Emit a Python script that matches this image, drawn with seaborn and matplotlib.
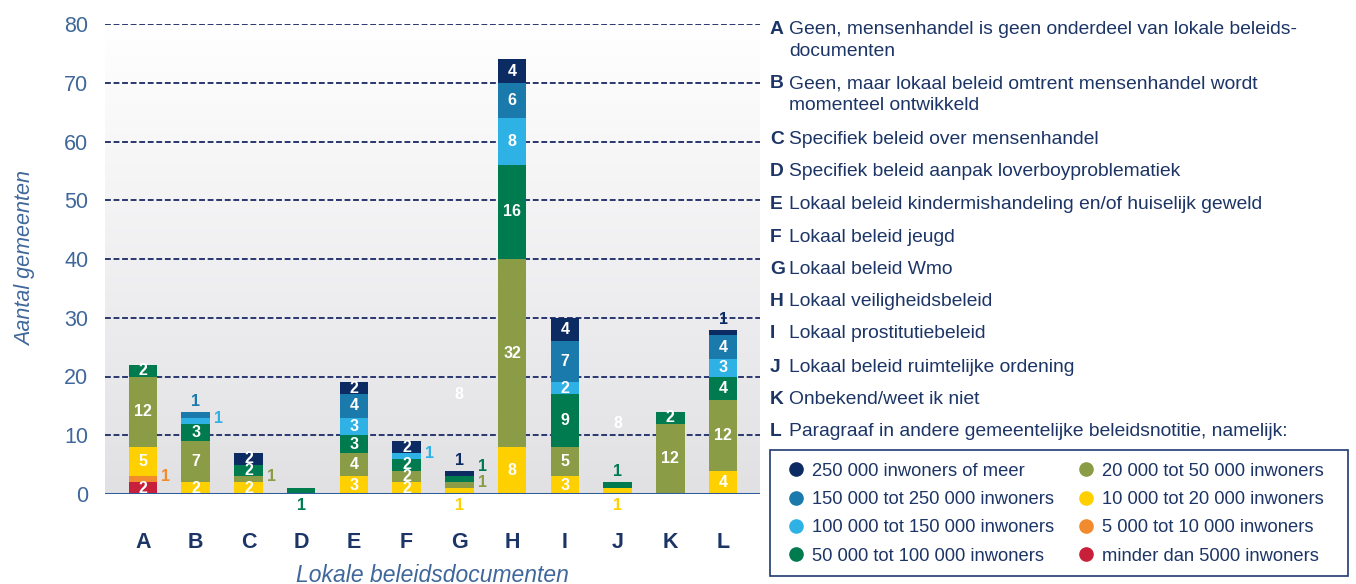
import numpy as np
import pandas as pd
import seaborn as sns
from matplotlib import pyplot as plt
from matplotlib.lines import Line2D
from matplotlib.patches import Rectangle

# --- data ---
categories = list("ABCDEFGHIJKL")
size_classes = [
    "250 000 inwoners of meer",
    "150 000 tot 250 000 inwoners",
    "100 000 tot 150 000 inwoners",
    "50 000 tot 100 000 inwoners",
    "20 000 tot 50 000 inwoners",
    "10 000 tot 20 000 inwoners",
    "5 000 tot 10 000 inwoners",
    "minder dan 5000 inwoners",
]
s250 = [0, 0, 2, 0, 2, 2, 1, 4, 4, 0, 0, 1]
s150 = [0, 1, 0, 0, 4, 0, 0, 6, 7, 0, 0, 4]
s100 = [0, 1, 0, 0, 3, 1, 0, 8, 2, 0, 0, 3]
s50 = [2, 3, 2, 1, 3, 2, 1, 16, 9, 1, 2, 4]
s20 = [12, 7, 1, 0, 4, 2, 1, 32, 5, 0, 12, 12]
s10 = [5, 2, 2, 0, 3, 2, 1, 8, 3, 1, 0, 4]
s5 = [1, 0, 0, 0, 0, 0, 0, 0, 0, 0, 0, 0]
s0 = [2, 0, 0, 0, 0, 0, 0, 0, 0, 0, 0, 0]
series = [s250, s150, s100, s50, s20, s10, s5, s0]

descriptions = [
    "Geen, mensenhandel is geen onderdeel van lokale beleids-\ndocumenten",
    "Geen, maar lokaal beleid omtrent mensenhandel wordt\nmomenteel ontwikkeld",
    "Specifiek beleid over mensenhandel",
    "Specifiek beleid aanpak loverboyproblematiek",
    "Lokaal beleid kindermishandeling en/of huiselijk geweld",
    "Lokaal beleid jeugd",
    "Lokaal beleid Wmo",
    "Lokaal veiligheidsbeleid",
    "Lokaal prostitutiebeleid",
    "Lokaal beleid ruimtelijke ordening",
    "Onbekend/weet ik niet",
    "Paragraaf in andere gemeentelijke beleidsnotitie, namelijk:",
]

colors = ["#0d2b63", "#1a7aab", "#2eb2e6", "#007a4f",
          "#8a9c46", "#ffd000", "#f28a2e", "#c81f3a"]
palette = dict(zip(size_classes, colors))
navy = "#1c3566"
steel = "#40679b"

rows = []
for cls, vals in zip(size_classes, series):
    for i, v in enumerate(vals):
        rows.append({"pos": i, "klasse": cls, "aantal": v})
df = pd.DataFrame(rows)

plt.rcParams["font.family"] = ["Liberation Sans", "DejaVu Sans"]
W, H = 1356, 584
fig = plt.figure(figsize=(W / 100, H / 100), dpi=100)
ax = fig.add_axes([105 / W, 1 - 494 / H, 655 / W, 470 / H])

# gradient background
grad = np.linspace(0, 1, 256).reshape(-1, 1)
ax.imshow(grad, extent=[0, 1, 0, 1], transform=ax.transAxes, aspect="auto",
          cmap=sns.blend_palette(["#e1e1e4", "#ffffff"], as_cmap=True),
          origin="lower", zorder=0)

sns.histplot(data=df, x="pos", weights="aantal", hue="klasse",
             hue_order=size_classes, palette=palette, multiple="stack",
             discrete=True, shrink=0.54, alpha=1, linewidth=0,
             legend=False, ax=ax, zorder=3)

ax.set_xlim(-0.72, 11.70)
ax.set_ylim(0, 80)
for s in ax.spines.values():
    s.set_visible(False)
for yv in range(10, 81, 10):
    ax.axhline(yv, color="#2a3770", lw=1.4, dashes=(3, 1.4), zorder=2)
ax.axhline(0, color="#2d5d9c", lw=2.2, zorder=4)

ax.set_yticks(range(0, 81, 10))
ax.set_xticks(range(len(categories)))
ax.set_xticklabels(categories, fontsize=15.5, fontweight="bold", color=navy)
ax.tick_params(axis="y", length=0, pad=12, labelsize=15.5, labelcolor=steel)
ax.tick_params(axis="x", length=0, pad=27)
ax.set_ylabel("Aantal gemeenten", fontsize=15.5, style="italic", color=steel,
              labelpad=20)
ax.set_xlabel("Lokale beleidsdocumenten", fontsize=16.5, style="italic",
              color=steel, labelpad=8)

# segment labels
arr = np.array(series)[::-1]          # bottom to top
cols_bt = colors[::-1]
bottoms = np.vstack([np.zeros(arr.shape[1]), np.cumsum(arr, axis=0)[:-1]])
half = 0.27
for j in range(arr.shape[1]):
    nz = np.nonzero(arr[:, j])[0]
    last_side = -10.0
    for k in nz:
        v = arr[k, j]
        mid = bottoms[k, j] + v / 2
        if v >= 2:
            ax.text(j, mid, str(v), ha="center", va="center", color="white",
                    fontsize=11.5, fontweight="bold", zorder=5)
        elif k == nz[0]:
            ax.text(j, -0.6, str(v), ha="center", va="top", color=cols_bt[k],
                    fontsize=11.5, fontweight="bold", zorder=5)
        elif k == nz[-1]:
            ax.text(j, bottoms[k, j] + v + 0.5, str(v), ha="center",
                    va="bottom", color=cols_bt[k], fontsize=11.5,
                    fontweight="bold", zorder=5)
        else:
            ys = max(mid + 0.4, last_side + 2.8)
            last_side = ys
            ax.text(j + half + 0.08, ys, str(v), ha="left",
                    va="center", color=cols_bt[k], fontsize=11.5,
                    fontweight="bold", zorder=5)

# stray white labels seen in the original
ax.text(6, 17, "8", ha="center", va="center", color="white", fontsize=11.5,
        fontweight="bold", zorder=1.5)
ax.text(9, 12, "8", ha="center", va="center", color="white", fontsize=11.5,
        fontweight="bold", zorder=1.5)

# category descriptions
line_y = [30, 84, 139, 171, 204, 237, 269, 302, 334, 367, 400, 432]
for cat, desc, y0 in zip(categories, descriptions, line_y):
    fig.text(770 / W, 1 - y0 / H, cat, ha="left", va="center",
             fontsize=13.9, fontweight="bold", color=navy)
    for i, line in enumerate(desc.split("\n")):
        fig.text(789 / W, 1 - (y0 + 22 * i) / H, line, ha="left",
                 va="center", fontsize=13.9, color=navy)

# legend box
fig.patches.append(Rectangle((770 / W, 1 - 576 / H), 578 / W, 126 / H,
                             transform=fig.transFigure, fill=False,
                             edgecolor="#1f3a70", lw=1.2))
handles = [Line2D([], [], marker="o", ls="", markersize=9.5,
                  markerfacecolor=c, markeredgecolor=c) for c in colors]
leg = fig.legend(handles, size_classes, ncol=2, loc="upper left",
                 bbox_to_anchor=(770.5 / W, 1 - 448 / H), frameon=False,
                 fontsize=13.2, handletextpad=0.27, labelspacing=0.62,
                 borderpad=0.3, columnspacing=1.15, handlelength=1.2)
for t in leg.get_texts():
    t.set_color(navy)

fig.savefig("out.png", dpi=100)
